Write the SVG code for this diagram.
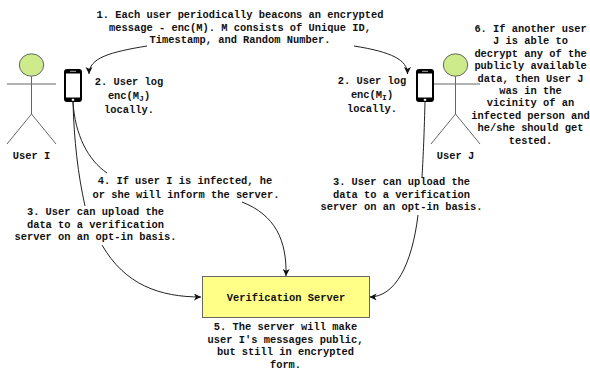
<svg xmlns="http://www.w3.org/2000/svg" width="590" height="373" viewBox="0 0 590 373">
<style>
text{font-family:"Liberation Mono","DejaVu Sans Mono",monospace;font-size:10.4px;font-weight:bold;fill:#111;text-anchor:middle}
.actor line{stroke:#666;stroke-width:1}
.head{fill:#cdeb8b;stroke:#666;stroke-width:1}
.edge{fill:none;stroke:#222;stroke-width:1}
.sub{font-size:8px}
</style>
<defs>
<marker id="arr" markerUnits="userSpaceOnUse" markerWidth="8" markerHeight="8" refX="7" refY="3.5" orient="auto">
<path d="M0,0 L7,3.5 L0,7 L1.8,3.5 z" fill="#111"/>
</marker>
<g id="phone-shape">
<rect x="0" y="0" width="18" height="33" rx="3" fill="#000"/>
<rect x="2" y="4.5" width="14" height="24" fill="#fff"/>
<rect x="6" y="1.8" width="6" height="1.2" rx="0.6" fill="#888"/>
<rect x="7.8" y="29.8" width="2.4" height="2" fill="#fff"/>
</g>
</defs>

<g id="connectors">
<path class="edge" d="M147,46 C110,52 89,58 89,74" marker-end="url(#arr)"/>
<path class="edge" d="M354,46 C392,52 407.5,60 407.5,74" marker-end="url(#arr)"/>
<path class="edge" d="M73,102 C74,140 78,175 85,206"/>
<path class="edge" d="M102,245 C125,285 160,297 201,297" marker-end="url(#arr)"/>
<path class="edge" d="M73,102 C75,135 88,160 107,173"/>
<path class="edge" d="M242,202 C275,215 287,240 286,276" marker-end="url(#arr)"/>
<path class="edge" d="M425,102 C424,140 423,160 422,177"/>
<path class="edge" d="M418,215 C412,265 395,297 369.5,297" marker-end="url(#arr)"/>
</g>

<g id="userI" class="actor">
<line x1="31.5" y1="76" x2="31.5" y2="114"/>
<line x1="7" y1="84" x2="56" y2="84"/>
<line x1="31.5" y1="114" x2="7" y2="144"/>
<line x1="31.5" y1="114" x2="56" y2="144"/>
<ellipse class="head" cx="31.5" cy="65" rx="12.2" ry="11.2"/>
<text x="31.5" y="159">User I</text>
</g>

<g id="userJ" class="actor">
<line x1="455.5" y1="76" x2="455.5" y2="114"/>
<line x1="431" y1="84" x2="480" y2="84"/>
<line x1="455.5" y1="114" x2="431" y2="144"/>
<line x1="455.5" y1="114" x2="480" y2="144"/>
<ellipse class="head" cx="455.5" cy="65" rx="12.2" ry="11.2"/>
<text x="455.5" y="159">User J</text>
</g>

<g id="phoneI"><use href="#phone-shape" x="64" y="69"/></g>
<g id="phoneJ"><use href="#phone-shape" x="416" y="69"/></g>

<g id="server">
<rect x="202.5" y="276.5" width="167" height="41" fill="#ffff88" stroke="#666" stroke-width="1"/>
<text x="286" y="300.5">Verification Server</text>
</g>

<g id="label1">
<text x="240" y="18">1. Each user periodically beacons an encrypted</text>
<text x="240" y="30.5">message - enc(M). M consists of Unique ID,</text>
<text x="240" y="43">Timestamp, and Random Number.</text>
</g>

<g id="label2I">
<text x="129" y="85">2. User log</text>
<text x="129" y="99">enc(M<tspan class="sub" dy="2">J</tspan><tspan dy="-2">)</tspan></text>
<text x="129" y="113">locally.</text>
</g>

<g id="label2J">
<text x="372" y="84">2. User log</text>
<text x="372" y="98">enc(M<tspan class="sub" dy="2">I</tspan><tspan dy="-2">)</tspan></text>
<text x="372" y="112">locally.</text>
</g>

<g id="label4">
<text x="185" y="183.5">4. If user I is infected, he</text>
<text x="186" y="197.5">or she will inform the server.</text>
</g>

<g id="label3I">
<text x="95.5" y="215">3. User can upload the</text>
<text x="95.5" y="227.5">data to a verification</text>
<text x="95.5" y="240">server on an opt-in basis.</text>
</g>

<g id="label3J">
<text x="401.5" y="185">3. User can upload the</text>
<text x="401.5" y="197.5">data to a verification</text>
<text x="401.5" y="210">server on an opt-in basis.</text>
</g>

<g id="label5">
<text x="285.5" y="330">5. The server will make</text>
<text x="285.5" y="342.5">user I's messages public,</text>
<text x="285.5" y="355">but still in encrypted</text>
<text x="285.5" y="367.5">form.</text>
</g>

<g id="label6">
<text x="530.5" y="32">6. If another user</text>
<text x="530.5" y="44.4">J is able to</text>
<text x="530.5" y="56.8">decrypt any of the</text>
<text x="530.5" y="69.2">publicly available</text>
<text x="530.5" y="81.6">data, then User J</text>
<text x="530.5" y="94">was in the</text>
<text x="530.5" y="106.4">vicinity of an</text>
<text x="530.5" y="118.8">infected person and</text>
<text x="530.5" y="131.2">he/she should get</text>
<text x="530.5" y="143.6">tested.</text>
</g>
</svg>
